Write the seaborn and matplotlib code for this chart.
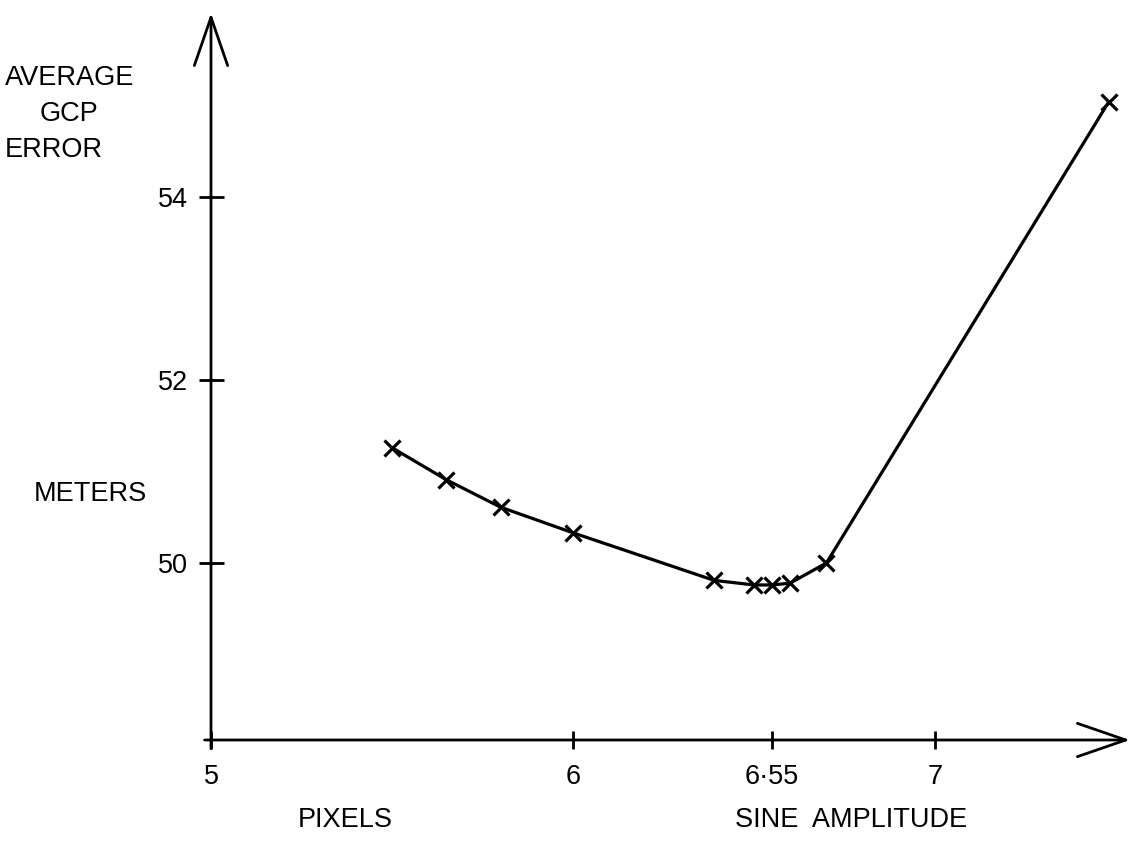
import matplotlib
matplotlib.use('Agg')
import matplotlib.pyplot as plt
import seaborn as sns
import pandas as pd

# data
x_pixels = [5.50, 5.65, 5.80, 6.00, 6.39, 6.50, 6.55, 6.60, 6.70, 7.48]
y_error = [51.26, 50.91, 50.61, 50.33, 49.81, 49.76, 49.76, 49.78, 50.00, 55.04]
x_ticks = [5, 6, 6.55, 7]
x_tick_labels = ['5', '6', '6·55', '7']
y_ticks = [50, 52, 54]
y_tick_labels = ['50', '52', '54']

sns.set_theme(style='white')
plt.rcParams['font.family'] = ['Liberation Sans', 'DejaVu Sans']
plt.rcParams['text.color'] = 'black'

W, H = 1143, 842
fig = plt.figure(figsize=(W / 100, H / 100), dpi=100)
fig.patch.set_facecolor('white')
x0, x1, y0, y1 = 211, 1130, 740, 13
ax = fig.add_axes([x0 / W, 1 - y0 / H, (x1 - x0) / W, (y0 - y1) / H])
ax.set_facecolor('white')

df = pd.DataFrame({'x': x_pixels, 'y': y_error})
sns.lineplot(data=df, x='x', y='y', ax=ax, color='black', lw=2.3,
             marker='x', markersize=12, markeredgewidth=2.3,
             markeredgecolor='black', sort=False)

ax.set_xlim(5, 5 + (x1 - x0) / 362)
ax.set_ylim(50 - 177 / 91.5, 54 + (197 - y1) / 91.5)

for s in ax.spines.values():
    s.set_visible(False)

fs = 19.5
ax.set_xticks(x_ticks, x_tick_labels)
ax.set_yticks(y_ticks, y_tick_labels)
ax.tick_params(axis='both', which='both', direction='inout', color='black',
               width=2, labelsize=fs, labelcolor='black')
ax.tick_params(axis='y', length=18, pad=7.5, left=True)
ax.tick_params(axis='x', length=13, pad=11, bottom=True)
ax.set_xlabel('')
ax.set_ylabel('')
ax.grid(False)

arrow = dict(arrowstyle='->,head_length=2.9,head_width=1.0', lw=2, color='black',
             shrinkA=0, shrinkB=0)
ax.annotate('', xy=(1, 0), xytext=(-0.007, 0), xycoords='axes fraction',
            textcoords='axes fraction', arrowprops=arrow, annotation_clip=False)
ax.annotate('', xy=(0, 1), xytext=(0, -0.012), xycoords='axes fraction',
            textcoords='axes fraction', arrowprops=arrow, annotation_clip=False)

fig.text(5 / W, 1 - 78 / H, 'AVERAGE', ha='left', va='center', fontsize=fs)
fig.text(69 / W, 1 - 114 / H, 'GCP', ha='center', va='center', fontsize=fs)
fig.text(5 / W, 1 - 150 / H, 'ERROR', ha='left', va='center', fontsize=fs)
fig.text(147 / W, 1 - 494 / H, 'METERS', ha='right', va='center', fontsize=fs)
fig.text(298 / W, 1 - 820 / H, 'PIXELS', ha='left', va='center', fontsize=fs)
fig.text(735 / W, 1 - 820 / H, 'SINE  AMPLITUDE', ha='left', va='center', fontsize=fs)

fig.savefig('out.png', dpi=100, facecolor='white')
